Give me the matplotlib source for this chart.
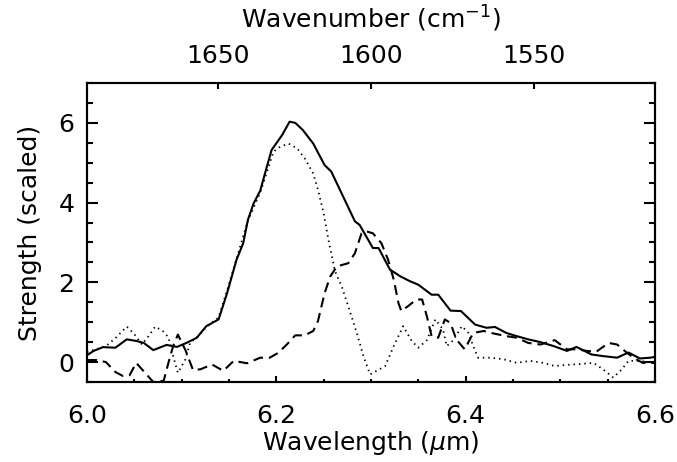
import numpy as np
import matplotlib
matplotlib.use("Agg")
import matplotlib.pyplot as plt
from matplotlib.ticker import MultipleLocator

plt.rcParams['font.family'] = ['DejaVu Sans']
plt.rcParams['mathtext.fontset'] = 'dejavusans'

# total band (solid)
wl_total = [6.000, 6.007, 6.017, 6.030, 6.042, 6.052, 6.060, 6.070, 6.084, 6.095,
            6.105, 6.116, 6.126, 6.139, 6.148, 6.158, 6.165, 6.170, 6.176, 6.183,
            6.188, 6.195, 6.206, 6.214, 6.220, 6.228, 6.239, 6.251, 6.258, 6.269,
            6.283, 6.288, 6.295, 6.302, 6.308, 6.320, 6.331, 6.341, 6.350, 6.364,
            6.371, 6.384, 6.395, 6.410, 6.422, 6.431, 6.443, 6.454, 6.466, 6.479,
            6.493, 6.507, 6.517, 6.533, 6.545, 6.560, 6.572, 6.584, 6.595, 6.600]
s_total = [0.17, 0.28, 0.375, 0.36, 0.57, 0.53, 0.48, 0.30, 0.43, 0.38,
           0.48, 0.61, 0.90, 1.07, 1.73, 2.57, 2.98, 3.57, 3.98, 4.30,
           4.73, 5.32, 5.69, 6.03, 6.00, 5.82, 5.48, 4.94, 4.78, 4.23,
           3.53, 3.44, 3.15, 2.86, 2.86, 2.32, 2.15, 2.03, 1.94, 1.69,
           1.69, 1.29, 1.28, 0.94, 0.86, 0.88, 0.73, 0.65, 0.57, 0.50,
           0.40, 0.28, 0.38, 0.19, 0.15, 0.11, 0.24, 0.09, 0.11, 0.13]

# first component (dotted)
wl_a = [6.000, 6.020, 6.030, 6.042, 6.050, 6.058, 6.065, 6.072, 6.080, 6.086,
        6.091, 6.096, 6.104, 6.109, 6.116, 6.126, 6.139, 6.148, 6.158, 6.170,
        6.183, 6.197, 6.204, 6.213, 6.222, 6.230, 6.239, 6.244, 6.250, 6.255,
        6.262, 6.269, 6.276, 6.285, 6.292, 6.299, 6.306, 6.315, 6.324, 6.334,
        6.343, 6.350, 6.359, 6.368, 6.376, 6.380, 6.387, 6.396, 6.403, 6.408,
        6.413, 6.426, 6.440, 6.454, 6.468, 6.482, 6.494, 6.507, 6.521, 6.535,
        6.545, 6.556, 6.565, 6.572, 6.584, 6.600]
s_a = [0.25, 0.40, 0.60, 0.89, 0.70, 0.44, 0.65, 0.89, 0.78, 0.62,
       0.15, -0.27, 0.07, 0.49, 0.62, 0.88, 1.12, 1.80, 2.60, 3.55,
       4.25, 5.28, 5.40, 5.48, 5.36, 5.11, 4.73, 4.32, 3.73, 3.07,
       2.28, 1.90, 1.40, 0.73, 0.15, -0.31, -0.22, -0.10, 0.40, 0.90,
       0.53, 0.36, 0.55, 1.07, 0.82, 0.40, 0.55, 0.90, 0.73, 0.40,
       0.11, 0.11, 0.07, -0.02, 0.03, -0.02, -0.10, -0.07, -0.05, -0.02,
       -0.18, -0.39, -0.18, 0.03, 0.03, -0.02]

# second component (dashed)
wl_b = [6.000, 6.010, 6.020, 6.030, 6.038, 6.045, 6.052, 6.061, 6.070, 6.081,
        6.086, 6.091, 6.096, 6.104, 6.112, 6.120, 6.132, 6.144, 6.155, 6.169,
        6.183, 6.193, 6.202, 6.211, 6.220, 6.230, 6.239, 6.244, 6.251, 6.257,
        6.264, 6.276, 6.283, 6.290, 6.295, 6.302, 6.311, 6.318, 6.324, 6.329,
        6.332, 6.339, 6.348, 6.354, 6.359, 6.364, 6.371, 6.378, 6.384, 6.390,
        6.399, 6.408, 6.419, 6.429, 6.443, 6.454, 6.466, 6.479, 6.494, 6.507,
        6.517, 6.528, 6.538, 6.551, 6.560, 6.568, 6.577, 6.587, 6.600]
s_b = [0.05, 0.05, 0.00, -0.25, -0.35, -0.33, -0.02, -0.26, -0.50, -0.47,
       -0.02, 0.40, 0.69, 0.30, -0.20, -0.18, -0.06, -0.22, 0.03, -0.03,
       0.11, 0.11, 0.23, 0.44, 0.67, 0.67, 0.78, 1.03, 1.73, 2.15,
       2.40, 2.48, 2.73, 3.23, 3.28, 3.23, 2.98, 2.57, 2.07, 1.48,
       1.28, 1.40, 1.57, 1.57, 1.15, 0.65, 0.61, 1.07, 0.98, 0.57,
       0.32, 0.73, 0.78, 0.72, 0.65, 0.61, 0.48, 0.44, 0.55, 0.32,
       0.32, 0.28, 0.26, 0.48, 0.44, 0.28, 0.11, -0.02, -0.02]

# top axis: wavenumber labels and where they sit on the wavelength scale (as drawn)
wn_labels = ['1650', '1600', '1550']
wn_pos = [6.138, 6.300, 6.472]

fig = plt.figure(figsize=(6.77, 4.62), dpi=100)
ax = fig.add_axes([87/677, 80/462, 568/677, 299/462])

ax.plot(wl_total, s_total, color='black', lw=1.5)
ax.plot(wl_a, s_a, color='black', lw=1.3, linestyle=(0, (0.8, 2.2)))
ax.plot(wl_b, s_b, color='black', lw=1.5, linestyle=(0, (4.8, 2.8)))

ax.set_xlim(6.0, 6.6)
ax.set_ylim(-0.5, 7)
ax.xaxis.set_major_locator(MultipleLocator(0.2))
ax.xaxis.set_minor_locator(MultipleLocator(0.05))
ax.yaxis.set_major_locator(MultipleLocator(2))
ax.yaxis.set_minor_locator(MultipleLocator(0.5))
ax.xaxis.set_major_formatter(matplotlib.ticker.FormatStrFormatter('%.1f'))

for sp in ax.spines.values():
    sp.set_linewidth(1.5)

ax.tick_params(axis='x', which='both', direction='in', top=False, bottom=True,
               labelsize=18, pad=16, width=1.5)
ax.tick_params(axis='x', which='major', length=4)
ax.tick_params(axis='x', which='minor', length=2)
ax.tick_params(axis='y', which='both', direction='in', left=True, right=True,
               labelsize=18, pad=9, width=1.5)
ax.tick_params(axis='y', which='major', length=8)
ax.tick_params(axis='y', which='minor', length=4)

ax.set_xlabel(r'Wavelength ($\mu$m)', fontsize=18)
ax.xaxis.set_label_coords(0.5, -0.205)
ax.xaxis.label.set_va('center')
ax.set_ylabel('Strength (scaled)', fontsize=18)
ax.yaxis.set_label_coords(-0.1, 0.5)
ax.yaxis.label.set_va('center')

ax2 = ax.twiny()
ax2.set_xlim(ax.get_xlim())
ax2.set_xticks(wn_pos)
ax2.set_xticklabels(wn_labels)
ax2.tick_params(axis='x', direction='in', length=4, width=1.5, labelsize=18, pad=11)
ax2.set_xlabel(r'Wavenumber (cm$^{-1}$)', fontsize=18)
ax2.xaxis.set_label_coords(0.5, 1.215)
ax2.xaxis.label.set_va('center')
for sp in ax2.spines.values():
    sp.set_linewidth(1.5)

fig.savefig('out.png', dpi=100)
